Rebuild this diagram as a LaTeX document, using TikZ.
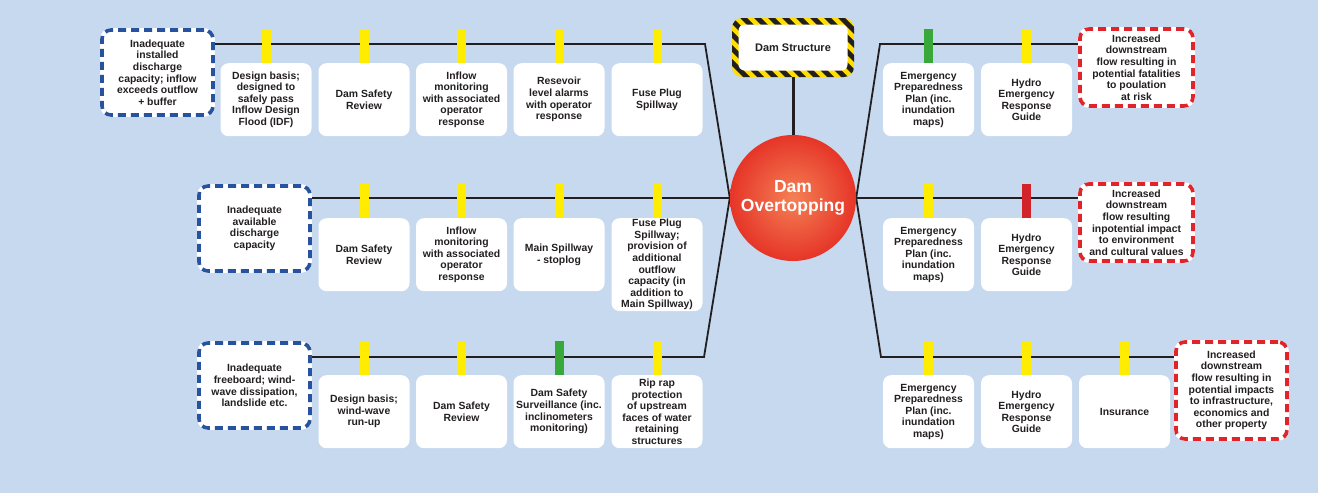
\documentclass[tikz,border=0pt]{standalone}
\usepackage{fontspec}
\setmainfont{Liberation Sans}

\definecolor{bgblue}{RGB}{198,217,239}
\definecolor{inktext}{RGB}{35,31,32}
\definecolor{baryellow}{RGB}{255,236,0}
\definecolor{bargreen}{RGB}{57,168,58}
\definecolor{barred}{RGB}{210,35,42}
\definecolor{dashblue}{RGB}{38,82,158}
\definecolor{dashred}{RGB}{226,36,42}
\definecolor{hazyellow}{RGB}{255,222,0}
\definecolor{circin}{RGB}{244,128,84}
\definecolor{circout}{RGB}{226,32,28}

\pgfdeclareradialshading{overtop}{\pgfpoint{0bp}{0bp}}{color(0bp)=(circin); color(8bp)=(circin!75!circout); color(32bp)=(circout); color(50bp)=(circout)}
\pgfdeclarelayer{back}
\pgfdeclarelayer{lines}
\pgfsetlayers{back,lines,main}

\newcommand{\lblfont}{\bfseries\fontsize{10.4}{11.6}\selectfont}

\tikzset{
  barrier/.style={rectangle, rounded corners=8pt, fill=white, minimum width=91pt, minimum height=73pt, inner sep=1pt, align=center, anchor=north, font=\lblfont, text=inktext},
  cause/.style={rectangle, rounded corners=9pt, fill=white, draw=dashblue, line width=3.6pt, dash pattern=on 8pt off 5pt, preaction={draw=white, line width=3.6pt, solid}, minimum width=111pt, minimum height=85pt, inner sep=1pt, align=center, font=\lblfont, text=inktext},
  effect/.style={cause, draw=dashred, minimum width=113pt, minimum height=77pt},
  mainline/.style={draw=inktext, line width=1.8pt},
}

\begin{document}
\begin{tikzpicture}[x=1pt, y=-1pt]
\begin{pgfonlayer}{back}
\fill[bgblue] (0,0) rectangle (1318,493);
\end{pgfonlayer}
\useasboundingbox (0,0) rectangle (1318,493);

% top event and hazard
\begin{scope}
\clip[rounded corners=10pt] (732,18) rectangle (854,77);
\fill[hazyellow] (732,18) rectangle (854,77);
\foreach \x in {670,684,...,856}{\fill[inktext] (\x,18) -- ({\x+7},18) -- ({\x+66},77) -- ({\x+59},77) -- cycle;}
\end{scope}
\node[fill=white, rounded corners=6pt, minimum width=109pt, minimum height=46pt, font=\bfseries\fontsize{11}{13}\selectfont, text=inktext] (hazard) at (793,47.5) {Dam Structure};
\node[circle, minimum size=126pt, shading=overtop, text=white, align=center, font=\bfseries\fontsize{17.5}{19.5}\selectfont] (event) at (793,198) {Dam\\Overtopping};

% threats
\node[cause] (c1) at (157.5,72.5) {Inadequate\\installed\\discharge\\capacity; inflow\\exceeds outflow\\+ buffer};
\node[cause] (c2) at (254.5,228.5) {Inadequate\\available\\discharge\\capacity};
\node[cause] (c3) at (254.5,385.5) {Inadequate\\freeboard; wind-\\wave dissipation,\\landslide etc.};

% preventive barriers
\node[barrier] (b11) at (266,63) {Design basis;\\designed to\\safely pass\\Inflow Design\\Flood (IDF)};
\node[barrier] (b12) at (364,63) {Dam Safety\\Review};
\node[barrier] (b13) at (461.5,63) {Inflow\\monitoring\\with associated\\operator\\response};
\node[barrier] (b14) at (559,63) {Resevoir\\level alarms\\with operator\\response};
\node[barrier] (b15) at (657,63) {Fuse Plug\\Spillway};

\node[barrier] (b21) at (364,218) {Dam Safety\\Review};
\node[barrier] (b22) at (461.5,218) {Inflow\\monitoring\\with associated\\operator\\response};
\node[barrier] (b23) at (559,218) {Main Spillway\\- stoplog};
\node[barrier] (b24) at (657,218) {Fuse Plug\\Spillway;\\provision of\\additional\\outflow\\capacity (in\\addition to\\Main Spillway)};

\node[barrier] (b31) at (364,375) {Design basis;\\wind-wave\\run-up};
\node[barrier] (b32) at (461.5,375) {Dam Safety\\Review};
\node[barrier] (b33) at (559,375) {Dam Safety\\Surveillance (inc.\\inclinometers\\monitoring)};
\node[barrier] (b34) at (657,375) {Rip rap\\protection\\of upstream\\faces of water\\retaining\\structures};

% recovery barriers
\node[barrier] (r11) at (928.5,63) {Emergency\\Preparedness\\Plan (inc.\\inundation\\maps)};
\node[barrier] (r12) at (1026.5,63) {Hydro\\Emergency\\Response\\Guide};
\node[barrier] (r21) at (928.5,218) {Emergency\\Preparedness\\Plan (inc.\\inundation\\maps)};
\node[barrier] (r22) at (1026.5,218) {Hydro\\Emergency\\Response\\Guide};
\node[barrier] (r31) at (928.5,375) {Emergency\\Preparedness\\Plan (inc.\\inundation\\maps)};
\node[barrier] (r32) at (1026.5,375) {Hydro\\Emergency\\Response\\Guide};
\node[barrier] (r33) at (1124.5,375) {Insurance};

% consequences
\node[effect] (q1) at (1136.5,67.5) {Increased\\downstream\\flow resulting in\\potential fatalities\\to poulation\\at risk};
\node[effect] (q2) at (1136.5,222.5) {Increased\\downstream\\flow resulting\\inpotential impact\\to environment\\and cultural values};
\node[effect, minimum width=111pt, minimum height=97pt] (q3) at (1231.5,390.5) {Increased\\downstream\\flow resulting in\\potential impacts\\to infrastructure,\\economics and\\other property};

% pathways
\coordinate (lt) at (705,44);
\coordinate (lb) at (704,357);
\coordinate (rt) at (880,44);
\coordinate (rb) at (881,357);
\begin{pgfonlayer}{lines}
\draw[mainline] (c1.east |- lt) -- (lt) -- (event.west);
\draw[mainline] (c2.east |- event.west) -- (event.west);
\draw[mainline] (c3.east |- lb) -- (lb) -- (event.west);
\draw[mainline] (event.east) -- (rt) -- (q1.west |- rt);
\draw[mainline] (event.east) -- (q2.west |- event.east);
\draw[mainline] (event.east) -- (rb) -- (q3.west |- rb);
\draw[draw=inktext, line width=3pt] (hazard.south) -- (event.north);
\end{pgfonlayer}

% barrier tabs
\foreach \nd/\clr in {b11/baryellow, b12/baryellow, b13/baryellow, b14/baryellow, b15/baryellow,
  b21/baryellow, b22/baryellow, b23/baryellow, b24/baryellow,
  b31/baryellow, b32/baryellow, b33/bargreen, b34/baryellow,
  r11/bargreen, r12/baryellow, r21/baryellow, r22/barred,
  r31/baryellow, r32/baryellow, r33/baryellow}
  {\fill[\clr] ([xshift=-4.5pt]\nd.north) rectangle ++(9pt,34pt);}
\end{tikzpicture}
\end{document}
